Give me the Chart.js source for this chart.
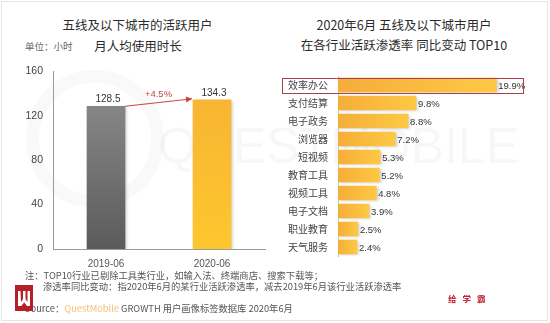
<!DOCTYPE html>
<html>
<head>
<meta charset="utf-8">
<script src="https://cdn.jsdelivr.net/npm/chart.js@4/dist/chart.umd.min.js"></script>
<style>
  html, body { margin: 0; padding: 0; background: #fff; }
  #page { position: relative; width: 550px; height: 323px; overflow: hidden; background: #fff;
          font-family: 'Noto Sans CJK SC', 'Noto Sans', sans-serif; }
  .frame { position: absolute; left: 1px; top: 1px; width: 547px; height: 320px;
           border: 1px solid #e6e6e6; box-sizing: border-box; }
  .t { position: absolute; white-space: nowrap; }
  .title { color: #2b2b2b; font-size: 12.5px; line-height: 16px; text-align: center; }
  .note { color: #555; font-size: 9.3px; line-height: 12px; }
  .wm { position: absolute; color: rgba(0,0,0,0.03); font-family: 'Liberation Sans', sans-serif;
        font-size: 50px; line-height: 50px; white-space: nowrap; }
  .ring { position: absolute; border-radius: 50%; border: 13px solid rgba(0,0,0,0.022); }
  canvas { position: absolute; }
</style>
</head>
<body>
<div id="page">
  <div class="frame"></div>

  <!-- faint brand watermark behind the plots -->
  <div class="ring" style="left:26px; top:70px; width:112px; height:112px;"></div>
  <div class="wm" style="left:158px; top:121px;">QUESTMOBILE</div>

  <!-- left panel headings -->
  <div class="t title" style="left:0; width:275px; top:17px;">五线及以下城市的活跃用户</div>
  <div class="t title" style="left:0; width:276px; top:38px;">月人均使用时长</div>
  <div class="t" style="left:25px; top:40px; font-size:9.5px; line-height:12px; color:#666;">单位：小时</div>

  <!-- right panel headings -->
  <div class="t title" style="left:254px; width:300px; top:17px;">2020年6月 五线及以下城市用户</div>
  <div class="t title" style="left:254px; width:300px; top:37px;">在各行业活跃渗透率 同比变动 TOP10</div>

  <canvas id="hoursChart" width="275" height="220" style="left:0; top:55px;"></canvas>
  <canvas id="rankChart" width="275" height="212" style="left:275px; top:60px;"></canvas>

  <!-- notes and source -->
  <div class="t note" style="left:25px; top:269px;">注：TOP10行业已剔除工具类行业，如输入法、终端商店、搜索下载等；</div>
  <div class="t note" style="left:43px; top:280px;">渗透率同比变动：指2020年6月的某行业活跃渗透率，减去2019年6月该行业活跃渗透率</div>
  <div class="t note" style="left:25px; top:302px;">Source：<span style="color:#f2c27a;">QuestMobile</span> GROWTH 用户画像标签数据库 2020年6月</div>

  <svg class="t" style="left:15px; top:285px;" width="18" height="26" viewBox="0 0 18 26">
    <rect x="0" y="0" width="18" height="26" fill="#b51f2a"/>
    <path d="M3 6 L5.5 6 L6 17 L8 14 L8 6 L10.5 6 L10.5 14 L12.5 17 L12.5 6 L15 6 L15 21 L12 21 L9.2 17.5 L6.2 21 L3 21 Z" fill="#fff"/>
  </svg>
  <div class="t" style="left:448px; top:292px; font-size:8.5px; line-height:12px; font-weight:bold; color:#c22330; letter-spacing:6px;">给学霸</div>
</div>

<script>
// Monthly hours per active user in lower-tier cities
const periods = ['2019-06', '2020-06'];
const hoursPerUser = [128.5, 134.3];
const hourTicks = [0, 40, 80, 120, 160];

// Year-over-year change of active penetration by industry, June 2020 (%)
const industries = ['效率办公', '支付结算', '电子政务', '浏览器', '短视频',
                    '教育工具', '视频工具', '电子文档', '职业教育', '天气服务'];
const penetrationChange = [19.9, 9.8, 8.8, 7.2, 5.3, 5.2, 4.8, 3.9, 2.5, 2.4];

const numFont = "'Liberation Sans', 'Noto Sans CJK SC', sans-serif";
const cjkFont = "'Noto Sans CJK SC', 'Noto Sans', sans-serif";

// soft drop shadow under bars
const barShadow = {
  id: 'barShadow',
  beforeDatasetsDraw(chart) {
    const c = chart.ctx;
    c.save();
    c.shadowColor = 'rgba(0,0,0,0.22)';
    c.shadowBlur = 3;
    c.shadowOffsetX = 2;
    c.shadowOffsetY = 1;
  },
  afterDatasetsDraw(chart) { chart.ctx.restore(); }
};

// value labels, growth arrow for the left chart
const hoursLabels = {
  id: 'hoursLabels',
  afterDraw(chart) {
    const c = chart.ctx;
    const bars = chart.getDatasetMeta(0).data;
    c.save();
    c.font = '10px ' + numFont;
    c.fillStyle = '#333';
    c.textAlign = 'center';
    c.textBaseline = 'bottom';
    bars.forEach((b, i) => c.fillText(hoursPerUser[i].toFixed(1), b.x + 2, b.y - 2));

    const a = bars[0], z = bars[1];
    const x0 = a.x + a.width / 2, y0 = a.y;
    const x1 = z.x - z.width / 2 - 1, y1 = z.y - 1;
    c.strokeStyle = '#c8453c';
    c.fillStyle = '#c8453c';
    c.lineWidth = 1;
    c.beginPath(); c.moveTo(x0, y0); c.lineTo(x1, y1); c.stroke();
    const ang = Math.atan2(y1 - y0, x1 - x0);
    c.beginPath();
    c.moveTo(x1, y1);
    c.lineTo(x1 - 6 * Math.cos(ang) + 3 * Math.sin(ang), y1 - 6 * Math.sin(ang) - 3 * Math.cos(ang));
    c.lineTo(x1 - 6 * Math.cos(ang) - 3 * Math.sin(ang), y1 - 6 * Math.sin(ang) + 3 * Math.cos(ang));
    c.closePath(); c.fill();

    const growth = (hoursPerUser[1] - hoursPerUser[0]) / hoursPerUser[0] * 100;
    c.font = '9.5px ' + numFont;
    c.fillStyle = '#c8453c';
    c.textBaseline = 'middle';
    c.fillText('+' + growth.toFixed(1) + '%', (x0 + x1) / 2, (y0 + y1) / 2 - 8);
    c.restore();
  }
};

function hoursColor(ctx) {
  const area = ctx.chart.chartArea;
  if (!area || !isFinite(area.top) || !isFinite(area.bottom)) return ctx.dataIndex === 0 ? '#777' : '#fbbd30';
  const g = ctx.chart.ctx.createLinearGradient(0, area.top, 0, area.bottom);
  if (ctx.dataIndex === 0) {
    g.addColorStop(0, '#909090');
    g.addColorStop(1, '#5b5b5b');
  } else {
    g.addColorStop(0, '#f7b134');
    g.addColorStop(1, '#fdc72e');
  }
  return g;
}

new Chart(document.getElementById('hoursChart'), {
  type: 'bar',
  data: {
    labels: periods,
    datasets: [{ data: hoursPerUser, backgroundColor: hoursColor, barThickness: 38, borderWidth: 0 }]
  },
  options: {
    responsive: false,
    animation: false,
    layout: { padding: { top: 13, right: 10, left: 0, bottom: 0 } },
    plugins: { legend: { display: false }, tooltip: { enabled: false } },
    scales: {
      x: {
        grid: { display: false, drawTicks: false },
        border: { color: '#9a9a9a' },
        ticks: { padding: 9, color: '#555', font: { family: numFont, size: 10 } },
        afterFit(s) { s.height = 26; }
      },
      y: {
        min: hourTicks[0], max: hourTicks[hourTicks.length - 1],
        afterBuildTicks(s) { s.ticks = hourTicks.map(v => ({ value: v })); },
        grid: { display: false, drawTicks: false },
        border: { color: '#9a9a9a' },
        ticks: { padding: 10, color: '#444', font: { family: numFont, size: 10.5 } },
        afterFit(s) { s.width = 53; }
      }
    }
  },
  plugins: [barShadow, hoursLabels]
});

// labels and highlight frame for the ranking chart
const rankLabels = {
  id: 'rankLabels',
  afterDraw(chart) {
    const c = chart.ctx;
    const bars = chart.getDatasetMeta(0).data;
    c.save();
    c.font = '9.5px ' + numFont;
    c.fillStyle = '#333';
    c.textAlign = 'left';
    c.textBaseline = 'middle';
    bars.forEach((b, i) => c.fillText(penetrationChange[i].toFixed(1) + '%', b.x + 2, b.y + 1));

    const top = bars[0];
    c.strokeStyle = '#a9404c';
    c.lineWidth = 1;
    c.strokeRect(7.5, Math.round(top.y - 7.5) + 0.5, 241, 15);
    c.restore();
  }
};

function rankColor(ctx) {
  const xs = ctx.chart.scales.x;
  const fallback = '#f8b93a';
  if (!xs || !ctx.chart.chartArea) return fallback;
  const x0 = xs.getPixelForValue(0);
  const x1 = xs.getPixelForValue(penetrationChange[ctx.dataIndex]);
  if (!isFinite(x0) || !isFinite(x1) || x1 <= x0) return fallback;
  const g = ctx.chart.ctx.createLinearGradient(x0, 0, x1, 0);
  g.addColorStop(0, '#f5ad3a');
  g.addColorStop(1, '#fdc943');
  return g;
}

new Chart(document.getElementById('rankChart'), {
  type: 'bar',
  data: {
    labels: industries,
    datasets: [{ data: penetrationChange, backgroundColor: rankColor, barThickness: 14, borderWidth: 0 }]
  },
  options: {
    indexAxis: 'y',
    responsive: false,
    animation: false,
    layout: { padding: { top: 8, right: 37, left: 0, bottom: 8 } },
    plugins: { legend: { display: false }, tooltip: { enabled: false } },
    scales: {
      x: { display: false, min: 0, max: 22 },
      y: {
        grid: { display: false, drawTicks: false },
        border: { color: '#c4c4c4' },
        ticks: { padding: 10, color: '#444', font: { family: cjkFont, size: 10 } },
        afterFit(s) { s.width = 63; }
      }
    }
  },
  plugins: [barShadow, rankLabels]
});
</script>
</body>
</html>
